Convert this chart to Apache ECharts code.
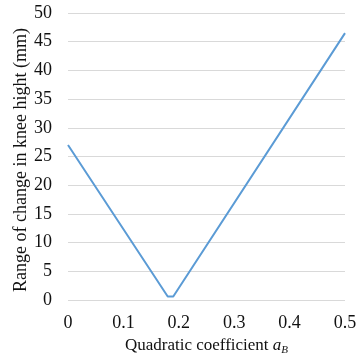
<!DOCTYPE html>
<html>
<head>
<meta charset="utf-8">
<script src="https://cdn.jsdelivr.net/npm/echarts@6/dist/echarts.min.js"></script>
<style>
  html, body { margin: 0; padding: 0; background: #fff; }
  #chart { width: 357px; height: 359px; }
</style>
</head>
<body>
<div id="chart"></div>
<script>
// quadratic coefficient a_B vs range of knee height change (mm)
const coefficients = [0, 0.18, 0.19, 0.5]
const kneeRange = [27.0, 0.6, 0.6, 46.5]
const yTicks = [0, 50, 5]   // min, max, step
const xTicks = [0, 0.5, 0.1]

const font = '"Liberation Serif", "Times New Roman", serif'

const chart = echarts.init(document.getElementById('chart'))
chart.setOption({
  animation: false,
  grid: {
    left: 68,
    right: 12,
    top: 13,
    bottom: 59,
    outerBoundsMode: 'none'
  },
  xAxis: {
    type: 'value',
    min: xTicks[0],
    max: xTicks[1],
    interval: xTicks[2],
    name: '{n|Quadratic coefficient }{a|a}{b|B}',
    nameLocation: 'middle',
    nameGap: 34,
    nameTextStyle: {
      rich: {
        n: { fontFamily: font, fontSize: 17, color: '#111' },
        a: { fontFamily: font, fontSize: 17, fontStyle: 'italic', color: '#111' },
        b: { fontFamily: font, fontSize: 11, fontStyle: 'italic', color: '#111', padding: [9, 0, 0, 0] }
      }
    },
    axisLine: { show: false },
    axisTick: { show: false },
    splitLine: { show: false },
    axisLabel: {
      margin: 14,
      fontFamily: font,
      fontSize: 18,
      color: '#111',
      formatter: v => (v === 0 ? '0' : v.toFixed(1))
    }
  },
  yAxis: {
    type: 'value',
    min: yTicks[0],
    max: yTicks[1],
    interval: yTicks[2],
    name: 'Range of change in knee hight (mm)',
    nameLocation: 'middle',
    nameGap: 38,
    nameMoveOverlap: false,
    nameTextStyle: { fontFamily: font, fontSize: 18, color: '#111', padding: [0, 7, 0, 0] },
    axisLine: { show: false },
    axisTick: { show: false },
    splitLine: { lineStyle: { color: '#d9d9d9', width: 1 } },
    axisLabel: {
      margin: 16,
      fontFamily: font,
      fontSize: 18,
      color: '#111'
    }
  },
  series: [
    {
      type: 'line',
      data: coefficients.map((c, i) => [c, kneeRange[i]]),
      showSymbol: false,
      lineStyle: { color: '#5b9bd5', width: 2 }
    }
  ]
})
</script>
</body>
</html>
